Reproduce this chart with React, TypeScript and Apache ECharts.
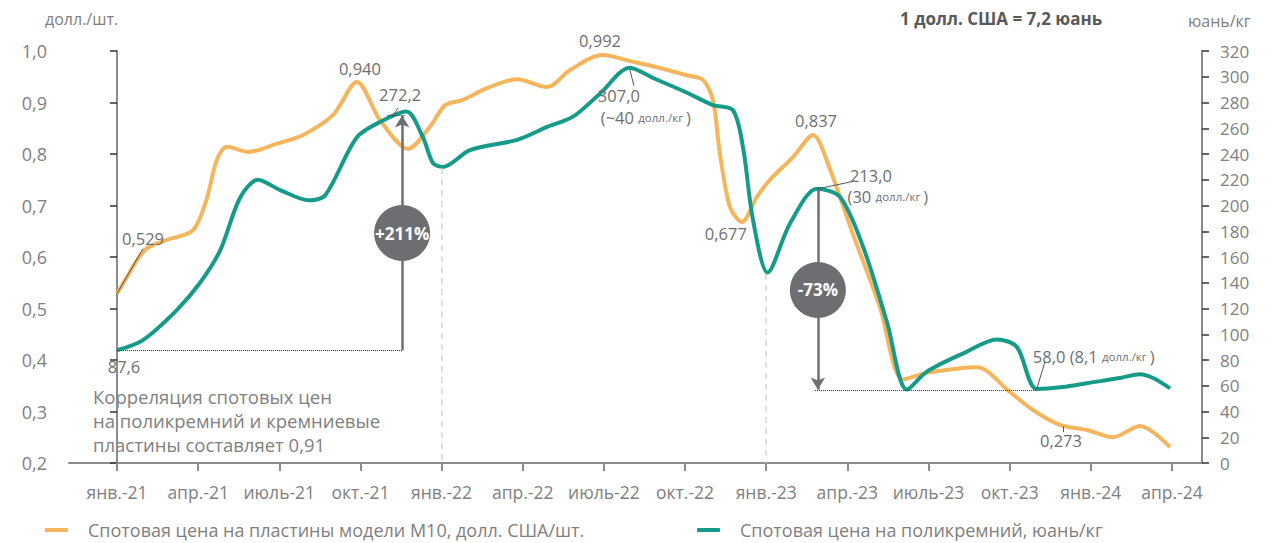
import React, { useEffect, useRef } from 'react';
import * as echarts from 'echarts';

const FONT = '"Open Sans", "DejaVu Sans", sans-serif';
const GRAY = '#808080';
const LABEL = '#6f6f6f';
const ORANGE = '#F5B55C';
const TEAL = '#169B8B';
const DARK = '#6d6e71';

const LEG_WAFER = 'Спотовая цена на пластины модели M10, долл. США/шт.';
const LEG_POLY = 'Спотовая цена на поликремний, юань/кг';

// x = months since Jan 2021
const tickMonths = [0, 3, 6, 9, 12, 15, 18, 21, 24, 27, 30, 33, 36, 39];
const tickLabels = [
  'янв.-21', 'апр.-21', 'июль-21', 'окт.-21', 'янв.-22', 'апр.-22', 'июль-22',
  'окт.-22', 'янв.-23', 'апр.-23', 'июль-23', 'окт.-23', 'янв.-24', 'апр.-24',
];

const waferMonths = [
  0, 0.37, 0.74, 1.11, 1.77, 2.81, 3.3, 3.7, 4.07, 4.84, 5.91, 6.88, 7.99, 8.87, 9.72,
  10.76, 11.57, 12.13, 12.79, 13.68, 14.79, 15.9, 16.75, 17.93, 19.08, 20.07, 21.07,
  21.66, 22.03, 22.29, 22.66, 23.1, 23.66, 24.14, 24.99, 25.73, 26.36, 27.1, 28.2,
  29.06, 29.94, 31.79, 33.0, 33.86, 34.86, 35.86, 36.82, 37.82, 38.93,
];
const waferPrices = [
  0.529, 0.561, 0.594, 0.617, 0.632, 0.652, 0.71, 0.79, 0.814, 0.804, 0.82, 0.837, 0.876,
  0.94, 0.866, 0.81, 0.853, 0.895, 0.905, 0.928, 0.945, 0.93, 0.963, 0.992, 0.979, 0.967,
  0.953, 0.944, 0.905, 0.8, 0.697, 0.668, 0.717, 0.75, 0.794, 0.837, 0.77, 0.66, 0.503,
  0.362, 0.375, 0.386, 0.338, 0.303, 0.274, 0.264, 0.25, 0.272, 0.231,
];

const polyMonths = [
  0, 0.96, 2.22, 3.07, 3.81, 4.55, 5.21, 6.03, 7.1, 7.7, 8.87, 9.83, 10.7, 11.31, 11.68,
  12.05, 13.05, 14.79, 15.9, 16.86, 17.86, 18.96, 19.82, 21.07, 22.03, 22.77, 23.14,
  23.51, 24.05, 24.88, 25.88, 26.73, 27.58, 28.47, 29.2, 29.94, 31.27, 32.53, 33.27,
  34.0, 34.97, 35.86, 37.08, 37.82, 38.3, 38.93,
];
const polyPrices = [
  87.6, 95.5, 119, 140, 165, 206, 220, 212, 204, 208, 253, 266, 273, 253, 233, 230, 243,
  251, 261, 269, 287, 307, 299, 287.6, 278, 274, 245.5, 189, 148, 186, 213, 206.6, 168,
  109, 57, 71, 85, 96, 90, 57.5, 59, 62, 66, 69, 66, 58,
];

const circlePoints = [[10.54, 178.6], [25.91, 134.4]];
const circleLabels = ['+211%', '-73%'];

const lbl = (coord: number[], text: string, dx: number, dy: number, extra: any = {}) => ({
  coord,
  symbol: 'circle',
  symbolSize: 0,
  itemStyle: { color: 'rgba(0,0,0,0)' },
  label: {
    show: true,
    position: 'inside',
    offset: [dx, dy],
    formatter: text,
    color: LABEL,
    fontSize: 16.5,
    fontFamily: FONT,
    ...extra,
  },
});

const richSmall = {
  a: { fontSize: 16.5, color: LABEL, fontFamily: FONT },
  b: { fontSize: 11.5, color: LABEL, fontFamily: FONT },
};

const seg = (a: number[], b: number[], style: any, endArrow = false) => [
  { coord: a, symbol: 'none', lineStyle: style },
  endArrow
    ? { coord: b, symbol: 'arrow', symbolSize: [11, 12] }
    : { coord: b, symbol: 'none' },
];

const leader = { color: '#555', width: 1, type: 'solid' };
const dotted = { color: '#333', width: 1, type: 'dotted' };
const arrowStyle = { color: DARK, width: 2.5, type: 'solid' };
const dashed = { color: '#d4d4d4', width: 1.5, type: [6, 5] };

export default function App() {
  const ref = useRef<HTMLDivElement>(null);
  useEffect(() => {
    if (!ref.current) return;
    const chart = echarts.init(ref.current, null, { renderer: 'svg' });
    const legendText = { fontSize: 18, lineHeight: 18, color: GRAY, fontFamily: FONT, padding: [0, 0, 0, 15] };
    const option: any = {
      animation: false,
      textStyle: { fontFamily: FONT },
      grid: { left: 69, right: 86, top: 51, bottom: 80, outerBoundsMode: 'none' },
      xAxis: {
        type: 'value',
        min: -1.774,
        max: 40.11,
        splitLine: { show: false },
        axisLine: { show: true, lineStyle: { color: '#8c8c8c', width: 2 } },
        axisTick: { show: true, customValues: tickMonths, length: 8, lineStyle: { color: '#8c8c8c', width: 2 } },
        axisLabel: {
          customValues: tickMonths,
          formatter: (v: number) => tickLabels[Math.round(v / 3)] ?? '',
          margin: 20,
          color: GRAY,
          fontSize: 17.5,
          fontFamily: FONT,
        },
      },
      yAxis: [
        {
          type: 'value',
          min: 0.2,
          max: 1.0,
          interval: 0.1,
          position: 'left',
          splitLine: { show: false },
          axisLine: { show: true, lineStyle: { color: '#8c8c8c', width: 2 } },
          axisTick: { show: true, length: 7, lineStyle: { color: '#333', width: 1.5 } },
          axisLabel: {
            formatter: (v: number) => v.toFixed(1).replace('.', ','),
            margin: 22,
            color: GRAY,
            fontSize: 18,
            fontFamily: FONT,
          },
        },
        {
          type: 'value',
          min: 0,
          max: 320,
          interval: 20,
          position: 'right',
          name: 'юань/кг',
          nameLocation: 'end',
          nameGap: 22,
          nameTextStyle: { color: GRAY, fontSize: 16, fontFamily: FONT, align: 'left', padding: [0, 0, 0, -14] },
          splitLine: { show: false },
          axisLine: { show: true, lineStyle: { color: '#8c8c8c', width: 2 } },
          axisTick: { show: true, length: 7, lineStyle: { color: '#333', width: 1.5 } },
          axisLabel: { margin: 18, color: GRAY, fontSize: 17, fontFamily: FONT },
        },
      ],
      legend: [
        {
          data: [LEG_WAFER],
          left: 45,
          top: 521,
          padding: 0,
          icon: 'roundRect',
          itemWidth: 23,
          itemHeight: 4,
          selectedMode: false,
          textStyle: legendText,
        },
        {
          data: [LEG_POLY],
          left: 697,
          top: 521,
          padding: 0,
          icon: 'roundRect',
          itemWidth: 23,
          itemHeight: 4,
          selectedMode: false,
          textStyle: legendText,
        },
      ],
      graphic: [
        {
          type: 'text',
          left: 45,
          top: 11,
          style: { text: 'долл./шт.', fontSize: 16, fill: GRAY, fontFamily: FONT },
        },
        {
          type: 'text',
          left: 900,
          top: 10,
          style: { text: '1 долл. США = 7,2 юань', fontSize: 17, fontWeight: 'bold', fill: '#595959', fontFamily: FONT },
        },
        {
          type: 'text',
          left: 93,
          top: 384,
          style: {
            text: 'Корреляция спотовых цен\nна поликремний и кремниевые\nпластины составляет 0,91',
            fontSize: 18.5,
            lineHeight: 24,
            fill: GRAY,
            fontFamily: FONT,
          },
        },
      ],
      series: [
        {
          name: LEG_WAFER,
          type: 'line',
          yAxisIndex: 0,
          data: waferMonths.map((m, i) => [m, waferPrices[i]]),
          smooth: 0.3,
          showSymbol: false,
          symbol: 'none',
          lineStyle: { color: ORANGE, width: 4 },
          itemStyle: { color: ORANGE },
          z: 2,
          markLine: {
            silent: true,
            symbol: ['none', 'none'],
            label: { show: false },
            emphasis: { disabled: true },
            data: [
              seg([0, 0.529], [0.96, 0.616], leader),
              seg([34.97, 0.271], [34.97, 0.26], leader),
            ],
          },
          markPoint: {
            silent: true,
            data: [
              lbl([0, 0.529], '0,529', 26, -55),
              lbl([8.87, 0.94], '0,940', 3, -13),
              lbl([17.93, 0.992], '0,992', -2, -15),
              lbl([25.73, 0.837], '0,837', 3, -14),
              lbl([23.1, 0.668], '0,677', -16, 12),
              lbl([34.86, 0.274], '0,273', 1, 16),
            ],
          },
        },
        {
          name: LEG_POLY,
          type: 'line',
          yAxisIndex: 1,
          data: polyMonths.map((m, i) => [m, polyPrices[i]]),
          smooth: 0.3,
          showSymbol: false,
          symbol: 'none',
          lineStyle: { color: TEAL, width: 4 },
          itemStyle: { color: TEAL },
          z: 3,
          markLine: {
            silent: true,
            symbol: ['none', 'none'],
            label: { show: false },
            emphasis: { disabled: true },
            data: [
              seg([12, 229], [12, 0], dashed),
              seg([24, 147], [24, 0], dashed),
              seg([0, 87.6], [10.54, 87.6], dotted),
              seg([25.8, 56.5], [34.0, 56.5], dotted),
              seg([10.0, 270], [10.65, 270], dotted),
              seg([10.54, 87.6], [10.54, 270], arrowStyle, true),
              seg([25.91, 213], [25.91, 57], arrowStyle, true),
              seg([18.96, 305.5], [19.11, 293], leader),
              seg([25.91, 213], [27.28, 219], leader),
              seg([34.0, 57.5], [34.3, 78.4], leader),
              seg([10.17, 268.5], [10.39, 275.7], leader),
            ],
          },
          markPoint: {
            silent: true,
            data: [
              lbl([0, 87.6], '87,6', 7, 16),
              lbl([10.54, 270], '272,2', -2, -21),
              lbl([18.96, 307], '307,0', -11, 28),
              lbl([18.96, 307], '{a|(~40 }{b|долл./кг }{a|)}', 16, 50, { rich: richSmall }),
              lbl([25.91, 213], '213,0', 53, -13),
              lbl([25.91, 213], '{a|(30 }{b|долл./кг }{a|)}', 70, 8, { rich: richSmall }),
              lbl([34.0, 57.5], '{a|58,0 (8,1 }{b|долл./кг }{a|)}', 57, -32, { rich: richSmall }),
            ],
          },
        },
        {
          name: 'change',
          type: 'scatter',
          yAxisIndex: 1,
          data: circlePoints,
          symbol: 'circle',
          symbolSize: 56,
          itemStyle: { color: DARK, opacity: 1 },
          silent: true,
          z: 10,
          label: {
            show: true,
            position: 'inside',
            formatter: (p: any) => circleLabels[p.dataIndex],
            color: '#fff',
            fontSize: 17,
            fontWeight: 'bold',
            fontFamily: FONT,
          },
        },
      ],
    };
    chart.setOption(option);
    return () => chart.dispose();
  }, []);
  return (
    <div
      ref={ref}
      style={{ position: 'absolute', left: 0, top: 0, width: 1288, height: 543, background: '#fff' }}
    />
  );
}
